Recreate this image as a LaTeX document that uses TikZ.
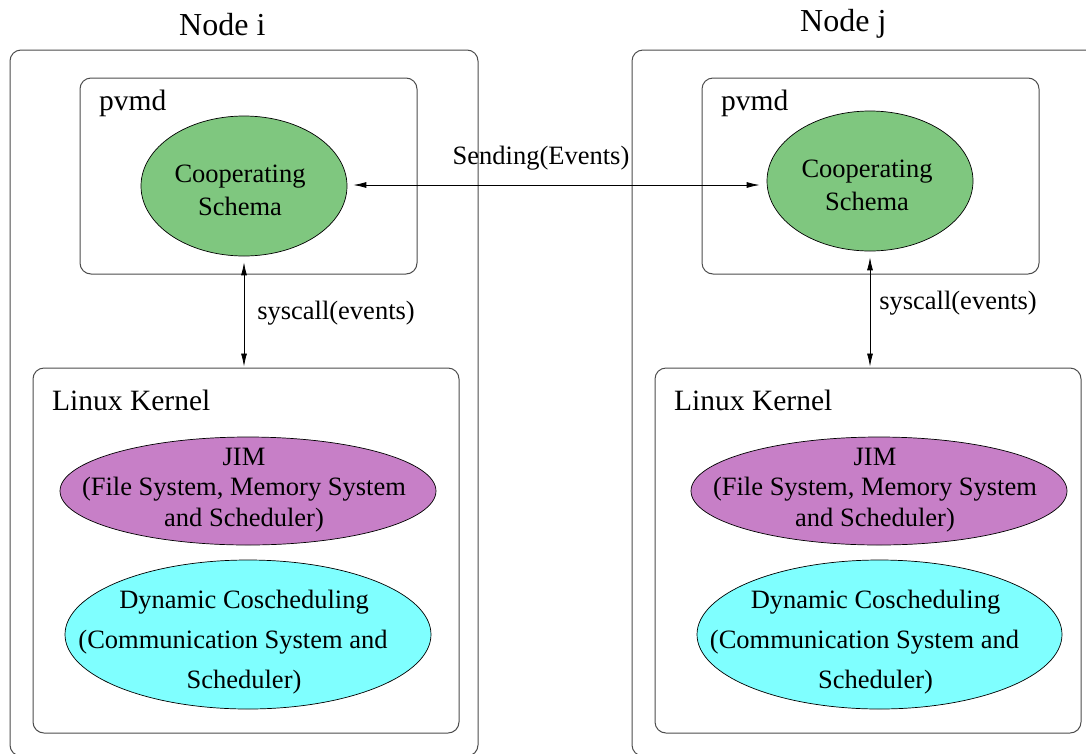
\documentclass[tikz,border=0pt]{standalone}
\usepackage{fontspec}
\setmainfont{Liberation Serif}
\usetikzlibrary{shapes.geometric,arrows.meta,calc}
\definecolor{coopgreen}{RGB}{127,199,127}
\definecolor{jimpurple}{RGB}{199,127,199}
\definecolor{dccyan}{RGB}{127,255,255}
\newcommand{\trailgap}{\hbox to 22pt{}}
\begin{document}
\begin{tikzpicture}[x=1pt,y=-1pt,
  box/.style={rectangle, draw=black!70, line width=1pt, rounded corners=11pt, inner sep=0pt},
  ell/.style={ellipse, draw=black, line width=0.7pt, inner sep=0pt},
  etxt/.style={align=center, inner sep=0pt, font=\fontsize{26.5}{31}\selectfont},
  txt/.style={font=\fontsize{26.5}{31}\selectfont, inner sep=0pt},
  boxlbl/.style={font=\fontsize{29.5}{33}\selectfont, anchor=base west, inner sep=0pt},
  title/.style={font=\fontsize{32}{36}\selectfont, anchor=base west, inner sep=0pt},
  arr/.style={{Latex[length=13pt,width=6pt]}-{Latex[length=13pt,width=6pt]}, line width=0.8pt}
]
\useasboundingbox (0,0) rectangle (1086,753);
\clip (0,0) rectangle (1086,753);

% Node i
\node[box, minimum width=468pt, minimum height=706pt] (outeri) at (244,403) {};
\node[box, minimum width=337pt, minimum height=196pt] (pvmdi) at (248.5,176) {};
\node[box, minimum width=426pt, minimum height=365pt] (kerneli) at (246,550.5) {};
\node[title] (titlei) at (179,35) {Node i};
\node[boxlbl] (pvmdlbli) at (99,110) {pvmd};
\node[boxlbl] (kernellbli) at (52,410) {Linux Kernel};
\node[ell, fill=coopgreen, minimum width=206pt, minimum height=140pt] (coopi) at (244,186) {};
\node[etxt, font=\fontsize{26.5}{33}\selectfont] (coopitxt) at ($(coopi.center)+(-4,4)$) {Cooperating\\Schema};
\node[ell, fill=jimpurple, minimum width=376pt, minimum height=108pt] (jimi) at (248,491) {};
\node[etxt, font=\fontsize{26.5}{30.5}\selectfont] (jimitxt) at ($(jimi.center)+(-4,-1)$) {JIM\\(File System, Memory System\\and Scheduler)};
\node[ell, fill=dccyan, minimum width=366pt, minimum height=149pt] (dci) at (248,634.5) {};
\node[etxt, font=\fontsize{26.5}{40}\selectfont] (dcitxt) at ($(dci.center)+(-4,8)$) {Dynamic Coscheduling\\(Communication System and\trailgap\\Scheduler)};

% Node j
\node[box, minimum width=478pt, minimum height=706pt] (outerj) at (871,403) {};
\node[box, minimum width=337pt, minimum height=196pt] (pvmdj) at (870.5,176) {};
\node[box, minimum width=426pt, minimum height=365pt] (kernelj) at (868,550.5) {};
\node[title] (titlej) at (800,31) {Node j};
\node[boxlbl] (pvmdlblj) at (721,110) {pvmd};
\node[boxlbl] (kernellblj) at (674,410) {Linux Kernel};
\node[ell, fill=coopgreen, minimum width=206pt, minimum height=140pt] (coopj) at (870,181) {};
\node[etxt, font=\fontsize{26.5}{33}\selectfont] (coopjtxt) at ($(coopj.center)+(-3,4)$) {Cooperating\\Schema};
\node[ell, fill=jimpurple, minimum width=376pt, minimum height=108pt] (jimj) at (879,491) {};
\node[etxt, font=\fontsize{26.5}{30.5}\selectfont] (jimjtxt) at ($(jimj.center)+(-4,-1)$) {JIM\\(File System, Memory System\\and Scheduler)};
\node[ell, fill=dccyan, minimum width=365pt, minimum height=149pt] (dcj) at (879.5,634.5) {};
\node[etxt, font=\fontsize{26.5}{40}\selectfont] (dcjtxt) at ($(dcj.center)+(-4,8)$) {Dynamic Coscheduling\\(Communication System and\trailgap\\Scheduler)};

% connectors
\draw[arr] ($(coopi.east)+(6,-1)$) -- ($(coopj.west)+(-7,4)$);
\node[txt] (sendlbl) at (541,158) {Sending(Events)};
\draw[arr] ($(coopi.south)+(0,6)$) -- ($(kerneli.north)+(-2,-1)$);
\node[txt] (sysi) at (336,313) {syscall(events)};
\draw[arr] ($(coopj.south)+(0,6)$) -- ($(kernelj.north)+(2,-1)$);
\node[txt] (sysj) at (958,303) {syscall(events)};
\end{tikzpicture}
\end{document}
